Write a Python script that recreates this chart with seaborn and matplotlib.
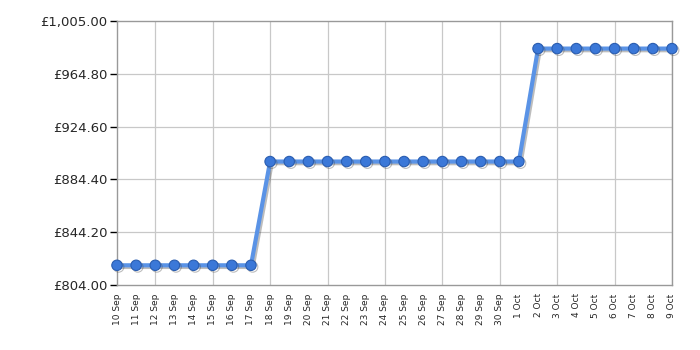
import matplotlib
matplotlib.use("Agg")
import matplotlib.pyplot as plt
import matplotlib.patheffects as pe
import seaborn as sns
import pandas as pd
import numpy as np

dates = ["10 Sep", "11 Sep", "12 Sep", "13 Sep", "14 Sep", "15 Sep", "16 Sep", "17 Sep",
         "18 Sep", "19 Sep", "20 Sep", "21 Sep", "22 Sep", "23 Sep", "24 Sep", "25 Sep",
         "26 Sep", "27 Sep", "28 Sep", "29 Sep", "30 Sep", "1 Oct", "2 Oct", "3 Oct",
         "4 Oct", "5 Oct", "6 Oct", "7 Oct", "8 Oct", "9 Oct"]
prices = [819.0] * 8 + [898.0] * 14 + [984.0] * 8
y_ticks = [804.00, 844.20, 884.40, 924.60, 964.80, 1005.00]
y_labels = ["£804.00", "£844.20", "£884.40", "£924.60", "£964.80", "£1,005.00"]

df = pd.DataFrame({"idx": np.arange(len(dates)), "price": prices})

sns.set_style("white")
plt.rcParams["font.family"] = ["DejaVu Sans"]

fig = plt.figure(figsize=(7, 3.5), dpi=100)
ax = fig.add_axes([117 / 700, 1 - 285 / 350, (672 - 117) / 700, (285 - 21) / 350])

shadow = [pe.SimpleLineShadow(offset=(1.2, -1.2), shadow_color="#444444", alpha=0.35), pe.Normal()]
sns.lineplot(data=df, x="idx", y="price", ax=ax, color="#5a93e6", linewidth=3.0,
             marker="o", markersize=7.5, markerfacecolor="#3b78d8",
             markeredgecolor="#2a5db0", markeredgewidth=0.8,
             path_effects=shadow, zorder=3, clip_on=False)

ax.set_xlim(0, len(dates) - 1)
ax.set_ylim(y_ticks[0], y_ticks[-1])

grid_idx = np.arange(2, len(dates), 3)
for gx in grid_idx:
    ax.axvline(gx, color="#c8c8c8", linewidth=0.9, zorder=0)
for gy in y_ticks[1:-1]:
    ax.axhline(gy, color="#c8c8c8", linewidth=0.9, zorder=0)

ax.set_xticks(np.arange(len(dates)))
ax.set_xticklabels(dates, rotation=90, fontsize=6.5)
ax.set_xticks(grid_idx, minor=True)
ax.tick_params(axis="x", which="major", length=0, pad=6, bottom=True)
ax.tick_params(axis="x", which="minor", length=5, width=1, color="black",
               direction="out", bottom=True)

ax.set_yticks(y_ticks)
ax.set_yticklabels(y_labels, fontsize=9.5)
ax.tick_params(axis="y", length=5, width=1, color="black", direction="out", pad=2, left=True)

for s in ax.spines.values():
    s.set_color("#999999")
    s.set_linewidth(1)

ax.set_xlabel("")
ax.set_ylabel("")

fig.savefig("out.png", dpi=100)
